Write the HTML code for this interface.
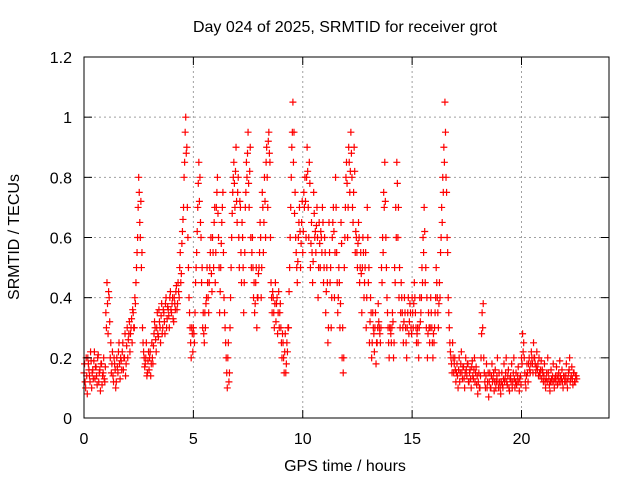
<!DOCTYPE html>
<html><head><meta charset="utf-8"><style>
body{margin:0;background:#fff;}
svg{display:block;font-family:"Liberation Sans",sans-serif;}
</style></head><body>
<svg id="chart" width="640" height="480" viewBox="0 0 640 480">
<text x="345" y="32" font-size="16" text-anchor="middle">Day 024 of 2025, SRMTID for receiver grot</text>
<text transform="translate(19,237) rotate(-90)" font-size="16" text-anchor="middle">SRMTID / TECUs</text>
<text x="345" y="471" font-size="16" text-anchor="middle">GPS time / hours</text>
<g id="grid"></g><g id="marks"></g><g id="axes"></g>
<rect x="84" y="57" width="525" height="361" fill="none" stroke="#000" stroke-width="1"/>
</svg>
<script>
const xTicks=[0,5,10,15,20];
const yTicks=[0,0.2,0.4,0.6,0.8,1,1.2];
const yTickLabels=["0","0.2","0.4","0.6","0.8","1","1.2"];
const tStart=0.0, tStep=0.05;
const srmtid=[
0.15,0.12,0.2,0.08,0.18,0.14,0.22,0.1,0.16,0.19,0.13,0.17,0.11,0.21,0.15,0.09,0.18,0.14,0.2,0.12,
0.35,0.45,0.28,0.4,0.2,0.15,0.22,0.12,0.18,0.1,0.2,0.15,0.25,0.13,0.19,0.22,0.16,0.2,0.14,0.24,
0.2,0.28,0.22,0.3,0.25,0.35,0.3,0.38,0.5,0.6,0.8,0.65,0.72,0.55,0.25,0.2,0.18,0.25,0.15,0.22,
0.2,0.14,0.25,0.18,0.28,0.3,0.22,0.35,0.27,0.32,0.25,0.38,0.3,0.35,0.28,0.4,0.33,0.36,0.3,0.42,
0.35,0.4,0.32,0.38,0.42,0.36,0.45,0.4,0.55,0.48,0.62,0.7,0.85,1.0,0.9,0.6,0.4,0.3,0.2,0.28,
0.3,0.25,0.45,0.55,0.7,0.85,0.8,0.6,0.5,0.35,0.25,0.3,0.4,0.45,0.35,0.5,0.6,0.42,0.55,0.65,
0.45,0.7,0.8,0.6,0.35,0.5,0.65,0.75,0.4,0.3,0.2,0.1,0.25,0.15,0.4,0.6,0.75,0.85,0.7,0.9,
0.65,0.8,0.5,0.7,0.45,0.6,0.35,0.55,0.75,0.8,0.95,0.7,0.9,0.5,0.6,0.4,0.35,0.45,0.3,0.4,
0.5,0.65,0.4,0.75,0.55,0.8,0.6,0.9,0.7,0.95,0.85,0.45,0.35,0.4,0.3,0.45,0.38,0.28,0.42,0.35,
0.3,0.2,0.25,0.15,0.28,0.18,0.22,0.3,0.5,0.7,0.9,1.05,0.95,0.75,0.55,0.45,0.6,0.7,0.5,0.65,
0.55,0.75,0.8,0.6,0.9,0.7,0.85,0.5,0.65,0.45,0.75,0.6,0.55,0.7,0.4,0.65,0.5,0.6,0.7,0.45,
0.6,0.35,0.5,0.25,0.65,0.45,0.3,0.6,0.7,0.4,0.8,0.55,0.35,0.5,0.3,0.65,0.2,0.15,0.5,0.7,
0.85,0.6,0.9,0.75,0.95,0.8,0.65,0.9,0.55,0.6,0.5,0.65,0.45,0.55,0.35,0.6,0.4,0.5,0.3,0.7,
0.45,0.25,0.4,0.2,0.35,0.28,0.3,0.18,0.25,0.38,0.3,0.25,0.5,0.6,0.75,0.85,0.6,0.4,0.3,0.2,
0.3,0.25,0.35,0.2,0.5,0.7,0.85,0.6,0.4,0.3,0.45,0.35,0.25,0.4,0.3,0.2,0.35,0.28,0.38,0.3,
0.4,0.3,0.45,0.35,0.25,0.3,0.2,0.4,0.35,0.5,0.6,0.7,0.45,0.3,0.2,0.35,0.25,0.4,0.3,0.2,
0.25,0.35,0.5,0.4,0.3,0.45,0.55,0.7,0.8,0.9,1.05,0.8,0.6,0.4,0.3,0.22,0.18,0.25,0.15,0.2,
0.12,0.18,0.1,0.2,0.15,0.22,0.13,0.17,0.1,0.2,0.14,0.18,0.12,0.16,0.1,0.19,0.13,0.2,0.15,0.11,
0.08,0.15,0.1,0.2,0.35,0.38,0.15,0.1,0.18,0.12,0.07,0.15,0.1,0.18,0.13,0.09,0.16,0.12,0.2,0.1,
0.12,0.08,0.15,0.1,0.18,0.13,0.2,0.11,0.16,0.09,0.14,0.18,0.12,0.2,0.1,0.15,0.12,0.17,0.09,0.14,
0.2,0.28,0.25,0.15,0.1,0.18,0.12,0.2,0.15,0.22,0.18,0.25,0.2,0.15,0.22,0.18,0.2,0.14,0.19,0.16,
0.12,0.18,0.1,0.15,0.2,0.13,0.09,0.16,0.12,0.18,0.1,0.14,0.17,0.11,0.15,0.19,0.12,0.16,0.1,0.14,
0.12,0.18,0.1,0.15,0.2,0.13,0.17,0.11,0.15,0.12,0.14
];
const srmtidB=[
0.18,0.1,0.14,0.2,0.16,0.12,0.19,0.15,0.13,0.22,0.17,0.14,0.2,0.12,0.16,0.18,0.11,0.15,0.13,0.17,
0.3,0.38,0.42,0.32,0.25,0.18,0.14,0.2,0.16,0.12,0.17,0.22,0.18,0.2,0.16,0.25,0.2,0.28,0.18,0.3,
0.26,0.32,0.28,0.33,0.36,0.3,0.4,0.45,0.55,0.7,0.75,0.6,0.5,0.3,0.22,0.17,0.2,0.14,0.19,0.16,
0.22,0.18,0.2,0.24,0.32,0.26,0.3,0.28,0.36,0.3,0.34,0.28,0.36,0.32,0.38,0.3,0.37,0.34,0.4,0.36,
0.38,0.33,0.4,0.36,0.44,0.38,0.42,0.5,0.45,0.58,0.66,0.8,0.95,0.88,0.7,0.5,0.35,0.25,0.3,0.22,
0.28,0.35,0.5,0.62,0.78,0.72,0.65,0.45,0.3,0.28,0.35,0.38,0.5,0.4,0.45,0.55,0.48,0.6,0.5,0.7,
0.55,0.75,0.68,0.5,0.42,0.58,0.7,0.55,0.35,0.25,0.15,0.2,0.12,0.3,0.5,0.68,0.8,0.78,0.82,0.72,
0.75,0.6,0.72,0.55,0.65,0.5,0.45,0.7,0.85,0.88,0.78,0.82,0.6,0.55,0.5,0.45,0.38,0.5,0.4,0.48,
0.55,0.6,0.5,0.7,0.65,0.72,0.85,0.8,0.92,0.88,0.6,0.4,0.42,0.35,0.38,0.32,0.4,0.35,0.3,0.38,
0.25,0.28,0.2,0.22,0.15,0.25,0.3,0.42,0.6,0.8,0.95,0.85,0.68,0.6,0.5,0.52,0.65,0.62,0.58,0.72,
0.62,0.7,0.72,0.8,0.82,0.6,0.78,0.58,0.55,0.52,0.68,0.62,0.64,0.6,0.5,0.58,0.62,0.55,0.65,0.5,
0.55,0.42,0.45,0.3,0.55,0.5,0.4,0.65,0.62,0.55,0.7,0.45,0.4,0.45,0.38,0.58,0.3,0.2,0.6,0.8,
0.78,0.7,0.85,0.82,0.88,0.7,0.75,0.82,0.62,0.55,0.58,0.6,0.5,0.48,0.5,0.55,0.45,0.55,0.4,0.6,
0.5,0.32,0.35,0.25,0.3,0.22,0.35,0.25,0.3,0.32,0.28,0.3,0.45,0.55,0.7,0.72,0.5,0.35,0.25,0.3,
0.28,0.3,0.32,0.25,0.45,0.6,0.78,0.7,0.5,0.35,0.4,0.3,0.32,0.35,0.25,0.3,0.4,0.32,0.35,0.28,
0.35,0.38,0.4,0.3,0.28,0.25,0.3,0.32,0.4,0.45,0.55,0.62,0.5,0.4,0.28,0.3,0.3,0.35,0.25,0.28,
0.3,0.4,0.45,0.35,0.38,0.4,0.6,0.65,0.75,0.85,0.95,0.75,0.55,0.35,0.25,0.2,0.15,0.2,0.18,0.16,
0.15,0.14,0.16,0.12,0.18,0.15,0.17,0.13,0.15,0.16,0.18,0.12,0.15,0.13,0.17,0.14,0.16,0.12,0.17,0.14,
0.12,0.1,0.14,0.28,0.3,0.2,0.12,0.14,0.1,0.15,0.12,0.1,0.14,0.12,0.15,0.12,0.1,0.14,0.12,0.15,
0.1,0.12,0.11,0.13,0.12,0.15,0.12,0.14,0.1,0.13,0.12,0.1,0.15,0.13,0.12,0.11,0.14,0.12,0.13,0.11,
0.18,0.22,0.2,0.12,0.14,0.15,0.18,0.16,0.18,0.2,0.15,0.2,0.18,0.17,0.16,0.14,0.15,0.16,0.13,0.15,
0.14,0.12,0.13,0.12,0.15,0.11,0.12,0.13,0.14,0.12,0.13,0.12,0.14,0.13,0.12,0.14,0.13,0.12,0.14,0.12,
0.14,0.12,0.13,0.16,0.12,0.14,0.13,0.15,0.12,0.14,0.13
];
const X0=84,X1=609,Y0=418,Y1=57,XMAX=24,YMAX=1.2;
function xs(t){return X0+(X1-X0)*t/XMAX;}
function ys(v){return Y0-(Y0-Y1)*v/YMAX;}
const NS="http://www.w3.org/2000/svg";
function mk(tag,attrs,parent){const e=document.createElementNS(NS,tag);for(const k in attrs)e.setAttribute(k,attrs[k]);parent.appendChild(e);return e;}
const grid=document.getElementById('grid'),axes=document.getElementById('axes'),marks=document.getElementById('marks');
yTicks.forEach((v,i)=>{
  const y=ys(v);
  if(v>0&&v<YMAX){const g=mk('line',{x1:X0,x2:X1,y1:y,y2:y,stroke:'#a0a0a0','stroke-dasharray':'2,3'},grid);
  
  }
  mk('line',{x1:X0,x2:X0+8,y1:y,y2:y,stroke:'#000'},axes);
  mk('line',{x1:X1,x2:X1-8,y1:y,y2:y,stroke:'#000'},axes);
  const t=mk('text',{x:X0-12,y:y+6,'font-size':16,'text-anchor':'end'},axes);
  
  
  t.textContent=yTickLabels[i];
});
xTicks.forEach(v=>{
  const x=xs(v);
  if(v>0){const g=mk('line',{x1:x,x2:x,y1:Y0,y2:Y1,stroke:'#a0a0a0','stroke-dasharray':'2,3'},grid);
  
  }
  mk('line',{x1:x,x2:x,y1:Y0,y2:Y0-8,stroke:'#000'},axes);
  mk('line',{x1:x,x2:x,y1:Y1,y2:Y1+8,stroke:'#000'},axes);
  const t=mk('text',{x:x,y:Y0+26,'font-size':16,'text-anchor':'middle'},axes);
  
  
  t.textContent=String(v);
});
function plot(arr,offset){
  arr.forEach((v,i)=>{
    const x=xs(tStart+offset+i*tStep),y=ys(v);
    const p=mk('path',{d:`M${x-3.5},${y}H${x+3.5}M${x},${y-3.5}V${y+3.5}`,stroke:'#f00','stroke-width':1.2,fill:'none'},marks);
    
    
  });
}
plot(srmtid,0);
plot(srmtidB,tStep/2);
</script>
</body></html>
